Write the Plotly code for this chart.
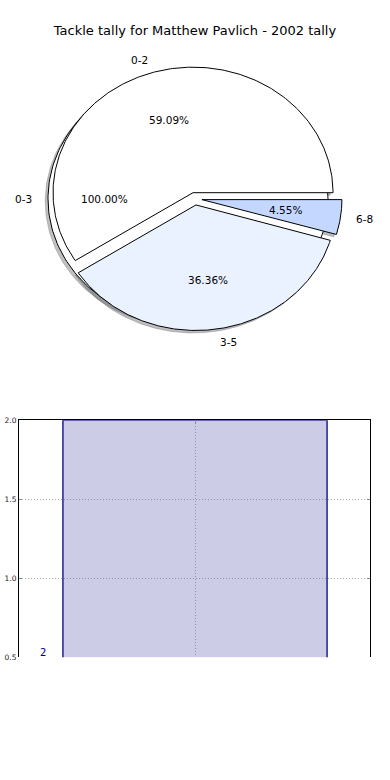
import numpy as np
import plotly.graph_objects as go

# ---------------- data ----------------
title_text = "Tackle tally for Matthew Pavlich - 2002 tally"
slice_labels = ["0-2", "0-3", "3-5", "6-8"]
slice_shares = [59.09, 100.00, 36.36, 4.55]      # percent labels shown on the pie
slice_explode = [0.05, 0.05, 0.05, 0.05]
slice_colors = ["#ffffff", "#ffffff", "#ebf2ff", "#c4d8ff"]
draw_order = [1, 0, 2, 3]

bar_x = [0]
bar_values = [2]
bar_text = ["2"]
ytick_vals = [0.5, 1.0, 1.5, 2.0]

# ---------------- layout constants ----------------
W, H = 390, 780
RX, RY = 140.0, 127.0        # px per pie unit (pie is drawn on a non-equal aspect axes)
CX, CY = 195.0, 197.0        # pie centre in px
PIE_BOTTOM = 390.0
FONT = "DejaVu Sans"

pie_xrange = [-CX / RX, (W - CX) / RX]
pie_yrange = [-(PIE_BOTTOM - CY) / RY, CY / RY]

# compute wedge angles from shares
wedges = []
start = 0.0
for lab, share, ex, col in zip(slice_labels, slice_shares, slice_explode, slice_colors):
    if share >= 100:
        t1, t2, full = 0.0, 360.0, True
    else:
        t1, t2, full = start, start + 3.6 * share, False
        start = t2
    mid = np.radians((t1 + t2) / 2)
    dx, dy = ex * np.cos(mid), ex * np.sin(mid)
    wedges.append(dict(label=lab, share=share, t1=t1, t2=t2, full=full,
                       dx=dx, dy=dy, mid=mid, color=col))


def wedge_path(w, ox=0.0, oy=0.0):
    th = np.radians(np.linspace(w["t1"], w["t2"], 241))
    xs = w["dx"] + ox + np.cos(th)
    ys = w["dy"] + oy + np.sin(th)
    if not w["full"]:
        xs = np.concatenate([[w["dx"] + ox], xs, [w["dx"] + ox]])
        ys = np.concatenate([[w["dy"] + oy], ys, [w["dy"] + oy]])
    return xs, ys


def shade(hexcol, a=0.35):
    h = hexcol.lstrip("#")
    r, g, b = (int(h[i:i + 2], 16) for i in (0, 2, 4))
    return f"rgba({int(r*0.3)},{int(g*0.3)},{int(b*0.3)},{a})"


fig = go.Figure()

# shadows (below all wedges)
for i in draw_order:
    w = wedges[i]
    xs, ys = wedge_path(w, -0.02, -0.02)
    fig.add_trace(go.Scatter(x=xs, y=ys, mode="lines", fill="toself",
                             fillcolor=shade(w["color"]),
                             line=dict(color=shade(w["color"]), width=0.8),
                             hoverinfo="skip", showlegend=False,
                             xaxis="x", yaxis="y"))
# wedges
for i in draw_order:
    w = wedges[i]
    xs, ys = wedge_path(w)
    fig.add_trace(go.Scatter(x=xs, y=ys, mode="lines", fill="toself",
                             fillcolor=w["color"],
                             line=dict(color="black", width=1),
                             hoverinfo="skip", showlegend=False,
                             xaxis="x", yaxis="y"))

annotations = []
for w in wedges:
    lx = w["dx"] + 1.1 * np.cos(w["mid"])
    ly = w["dy"] + 1.1 * np.sin(w["mid"])
    annotations.append(dict(x=lx, y=ly, xref="x", yref="y", text=w["label"],
                            showarrow=False, xanchor="left" if lx > 0 else "right",
                            yanchor="middle", font=dict(family=FONT, size=10.5, color="black")))
    px_ = w["dx"] + 0.6 * np.cos(w["mid"])
    py_ = w["dy"] + 0.6 * np.sin(w["mid"])
    annotations.append(dict(x=px_, y=py_, xref="x", yref="y", text=f"{w['share']:.2f}%",
                            showarrow=False, xanchor="center", yanchor="middle",
                            font=dict(family=FONT, size=10.5, color="black")))

# bar chart
fig.add_trace(go.Bar(x=bar_x, y=bar_values, width=0.8,
                     marker=dict(color="rgba(0,0,128,0.2)", line=dict(color="#000080", width=1.3)),
                     hoverinfo="skip", showlegend=False, xaxis="x2", yaxis="y2"))
annotations.append(dict(x=-0.46, y=0.5, xref="x2", yref="y2", text=bar_text[0],
                        showarrow=False, xanchor="center", yanchor="bottom", yshift=-3,
                        font=dict(family=FONT, size=10, color="#000080")))

grid_col = "#b4b4b4"
fig.update_layout(
    width=W, height=H, autosize=False,
    margin=dict(l=0, r=0, t=0, b=0),
    paper_bgcolor="white", plot_bgcolor="rgba(0,0,0,0)",
    title=dict(text=title_text, x=0.5, xanchor="center", y=1 - 30 / H, yanchor="middle",
               font=dict(family=FONT, size=13, color="black")),
    font=dict(family=FONT),
    xaxis=dict(domain=[0, 1], range=pie_xrange, visible=False, anchor="y"),
    yaxis=dict(domain=[1 - PIE_BOTTOM / H, 1], range=pie_yrange, visible=False, anchor="x"),
    xaxis2=dict(domain=[19 / W, 370 / W], range=[-0.533, 0.530], anchor="y2", side="top",
                showline=True, linecolor="black", linewidth=1, mirror=False,
                tickvals=[0], showticklabels=False, ticks="inside", ticklen=3, tickcolor="#888",
                showgrid=True, gridcolor=grid_col, griddash="1px,2px", gridwidth=1, zeroline=False),
    yaxis2=dict(domain=[1 - 661 / H, 1 - 421 / H], range=[0.5, 2.0], anchor="x2",
                showline=True, linecolor="black", linewidth=1, mirror="ticks",
                tickvals=ytick_vals, tickformat=".1f", ticks="inside", ticklen=3, tickcolor="#888",
                tickfont=dict(family=FONT, size=7.5, color="#222"),
                showgrid=True, gridcolor=grid_col, griddash="1px,2px", gridwidth=1, zeroline=False),
    annotations=annotations,
)

fig.write_html("out.html", config={"displayModeBar": False},
               post_script="document.body.style.margin='0';document.body.style.padding='0';")
